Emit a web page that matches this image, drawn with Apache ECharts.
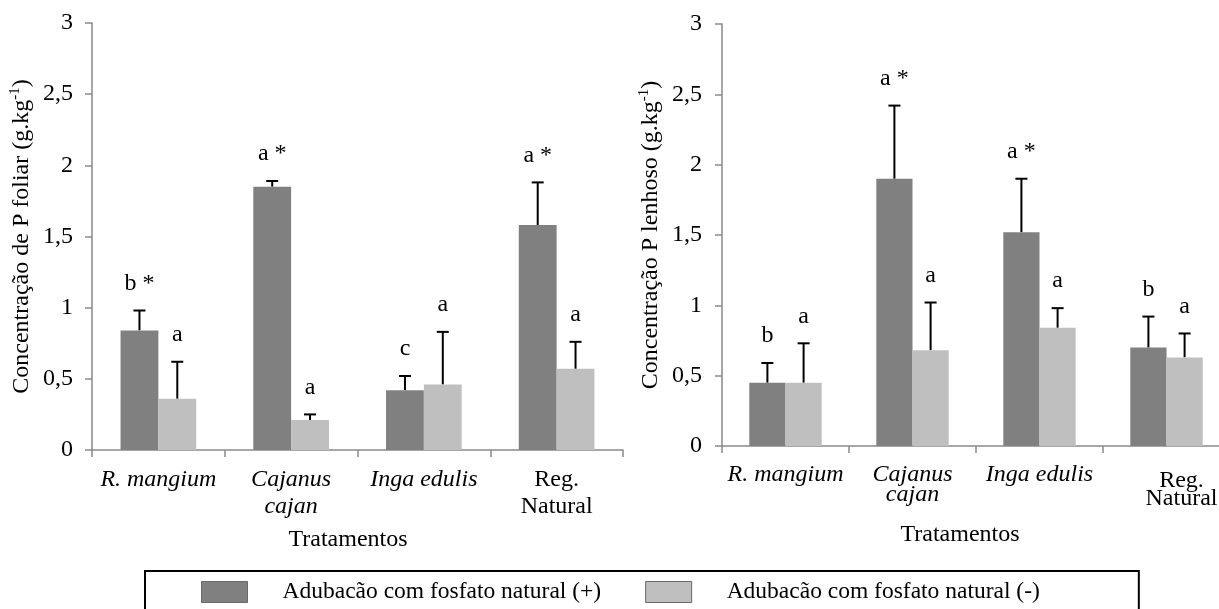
<!DOCTYPE html>
<html>
<head>
<meta charset="utf-8">
<script src="https://cdn.jsdelivr.net/npm/echarts@6/dist/echarts.min.js"></script>
<style>
html,body{margin:0;padding:0;background:#fff;}
#c{width:1219px;height:609px;}
</style>
</head>
<body>
<div id="c"></div>
<script>
// ---- data ----
const categories = ['R. mangium', 'Cajanus cajan', 'Inga edulis', 'Reg. Natural'];
const seriesNames = ['Adubacão com fosfato natural (+)', 'Adubacão com fosfato natural (-)'];
const yTicks = [0, 0.5, 1, 1.5, 2, 2.5, 3];

// Painel 1: P foliar
const foliarPlus = [0.84, 1.85, 0.42, 1.58];
const foliarPlusErr = [0.14, 0.04, 0.10, 0.30];
const foliarMinus = [0.36, 0.21, 0.46, 0.57];
const foliarMinusErr = [0.26, 0.04, 0.37, 0.19];
const foliarPlusLetters = ['b *', 'a *', 'c', 'a *'];
const foliarMinusLetters = ['a', 'a', 'a', 'a'];

// Painel 2: P lenhoso
const lenhosoPlus = [0.45, 1.90, 1.52, 0.70];
const lenhosoPlusErr = [0.14, 0.52, 0.38, 0.22];
const lenhosoMinus = [0.45, 0.68, 0.84, 0.63];
const lenhosoMinusErr = [0.28, 0.34, 0.14, 0.17];
const lenhosoPlusLetters = ['b', 'a *', 'a *', 'b'];
const lenhosoMinusLetters = ['a', 'a', 'a', 'a'];

// ---- styling ----
const FONT = 'Liberation Serif';
const FS = 24;
const DARK = '#808080';
const LIGHT = '#bfbfbf';
const AXIS = '#8a8a8a';
const GAP = 0.43;

const chart = echarts.init(document.getElementById('c'));

function labelFormatter(right) {
  return function (v) {
    if (v === 'Reg. Natural') return right ? '{sp| }\n{n2|Reg.}\n{n2|Natural}' : '{n|Reg.}\n{n|Natural}';
    if (v === 'Cajanus cajan') return '{i|Cajanus}\n{i|cajan}';
    return '{i|' + v + '}';
  };
}

function xAxis(gridIndex, right) {
  const lh = right ? 20 : 27;
  return {
    type: 'category', gridIndex: gridIndex, data: categories,
    name: 'Tratamentos', nameLocation: 'middle', nameGap: right ? 77 : 78,
    nameTextStyle: { fontFamily: FONT, fontSize: FS, color: '#000', padding: right ? [0, 32, 0, 0] : [0, 19, 0, 0] },
    axisLine: { show: true, lineStyle: { color: AXIS, width: 1.5 } },
    axisTick: { show: true, inside: false, length: 7, interval: 0, lineStyle: { color: AXIS, width: 1.5 } },
    axisLabel: {
      interval: 0, margin: right ? 19 : 16, color: '#000', hideOverlap: false,
      formatter: labelFormatter(right),
      rich: {
        i: { fontFamily: FONT, fontSize: FS, fontStyle: 'italic', color: '#000', lineHeight: lh },
        n: { fontFamily: FONT, fontSize: FS, color: '#000', lineHeight: lh },
        sp: { fontFamily: FONT, fontSize: 1, lineHeight: 7 },
        n2: { fontFamily: FONT, fontSize: FS, color: '#000', lineHeight: 18, padding: [0, 0, 0, 30] }
      }
    },
    splitLine: { show: false }
  };
}

function yAxis(gridIndex, title, gap, margin) {
  return {
    type: 'value', gridIndex: gridIndex, min: yTicks[0], max: yTicks[yTicks.length - 1], interval: 0.5,
    name: title, nameLocation: 'middle', nameGap: gap,
    nameTextStyle: {
      color: '#000',
      rich: {
        t: { fontFamily: FONT, fontSize: FS, color: '#000', lineHeight: 28 },
        s: { fontFamily: FONT, fontSize: 15, color: '#000', lineHeight: 15, verticalAlign: 'top' }
      }
    },
    axisLine: { show: true, lineStyle: { color: AXIS, width: 1.5 } },
    axisTick: { show: true, inside: false, length: 7, lineStyle: { color: AXIS, width: 1.5 } },
    axisLabel: {
      margin: margin, color: '#000', fontFamily: FONT, fontSize: FS,
      formatter: function (v) { return String(v).replace('.', ','); }
    },
    splitLine: { show: false }
  };
}

function barSeries(name, color, vals, gi) {
  return {
    name: name, type: 'bar', xAxisIndex: gi, yAxisIndex: gi, data: vals,
    barGap: '0%', barCategoryGap: (GAP * 100) + '%',
    itemStyle: { color: color }, silent: true, animation: false
  };
}

function errSeries(vals, errs, letters, side, gi) {
  return {
    type: 'custom', xAxisIndex: gi, yAxisIndex: gi, silent: true, animation: false, clip: false,
    data: vals.map(function (v, i) { return [i, v, errs[i]]; }),
    renderItem: function (params, api) {
      const ci = api.value(0), v = api.value(1), e = api.value(2);
      const base = api.coord([ci, v]);
      const top = api.coord([ci, v + e]);
      const cw = api.size([1, 0])[0];
      const bw = cw * (1 - GAP) / 2;
      const x = base[0] + (side === 0 ? -bw / 2 : bw / 2);
      const ls = { stroke: '#000', lineWidth: 2 };
      return {
        type: 'group',
        children: [
          { type: 'line', shape: { x1: x, y1: base[1], x2: x, y2: top[1] }, style: ls },
          { type: 'line', shape: { x1: x - 6, y1: top[1], x2: x + 6, y2: top[1] }, style: ls },
          { type: 'text', style: { text: letters[params.dataIndex], x: x, y: top[1] - 27, align: 'center', verticalAlign: 'middle', fontFamily: FONT, fontSize: FS, fill: '#000' } }
        ]
      };
    }
  };
}

const option = {
  animation: false,
  backgroundColor: '#fff',
  grid: [
    { left: 92, top: 23, width: 531, height: 427, containLabel: false, outerBoundsMode: 'none' },
    { left: 722, top: 24, width: 508, height: 422, containLabel: false, outerBoundsMode: 'none' }
  ],
  xAxis: [xAxis(0, false), xAxis(1, true)],
  yAxis: [
    yAxis(0, '{t|Concentração de P foliar (g.kg}{s|-1}{t|)}', 56, 19),
    yAxis(1, '{t|Concentração P lenhoso (g.kg}{s|-1}{t|)}', 57, 20)
  ],
  legend: {
    data: seriesNames, left: 145, top: 571, orient: 'horizontal',
    icon: 'rect', itemWidth: 46, itemHeight: 21, itemGap: 44,
    padding: [9, 99, 20, 56],
    borderColor: '#000', borderWidth: 2,
    itemStyle: { borderColor: '#6a6a6a', borderWidth: 1 },
    textStyle: { fontFamily: FONT, fontSize: 23.5, color: '#000', padding: [0, 0, 0, 30] },
    selectedMode: false
  },
  series: [
    barSeries(seriesNames[0], DARK, foliarPlus, 0),
    barSeries(seriesNames[1], LIGHT, foliarMinus, 0),
    barSeries(seriesNames[0], DARK, lenhosoPlus, 1),
    barSeries(seriesNames[1], LIGHT, lenhosoMinus, 1),
    errSeries(foliarPlus, foliarPlusErr, foliarPlusLetters, 0, 0),
    errSeries(foliarMinus, foliarMinusErr, foliarMinusLetters, 1, 0),
    errSeries(lenhosoPlus, lenhosoPlusErr, lenhosoPlusLetters, 0, 1),
    errSeries(lenhosoMinus, lenhosoMinusErr, lenhosoMinusLetters, 1, 1)
  ]
};
chart.setOption(option);
</script>
</body>
</html>
